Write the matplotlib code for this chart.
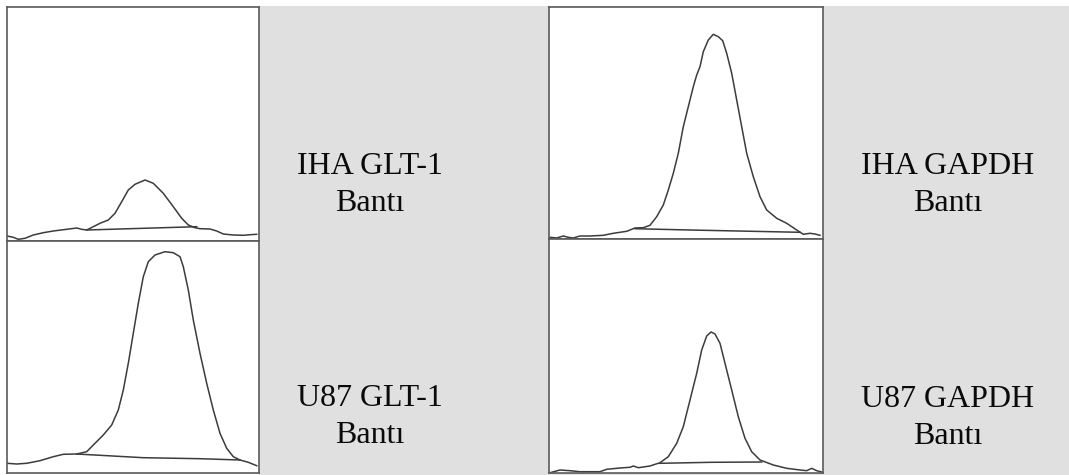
import matplotlib

matplotlib.use('Agg')
import matplotlib.pyplot as plt
from matplotlib.patches import Rectangle

# densitometry traces: position along the lane, band intensity
iha_glt_x = [0, 6.3, 11.3, 18, 26.3, 36.3, 46.3, 59.7, 69.7, 74.7, 79.7, 86.3, 93, 101.3, 108, 114.7,
             121.3, 128, 138, 146.3, 156.3, 166.3, 174.7, 181.3, 188, 193, 203, 209.7, 216.3, 226.3,
             236.3, 243, 249.7]
iha_glt_y = [5, 3.7, 1.7, 2.7, 6, 8.3, 10, 11.7, 13, 11.7, 11, 14.3, 17.7, 21, 27.7, 39.3,
             51, 56.7, 61, 57.7, 47.7, 34.3, 22.7, 16, 13.3, 12.3, 12, 10, 7, 6,
             5.7, 6.3, 6.7]
iha_glt_base_x = [79.7, 136.3, 189.7]
iha_glt_base_y = [11, 12.7, 14.3]

u87_glt_x = [0, 9.7, 19.7, 33, 46.3, 56.3, 69.7, 79.7, 86.3, 96.3, 104.7, 111.3, 116.3, 121.3, 126.3,
             131.3, 136.3, 141.3, 148, 158, 166.3, 173, 176.3, 181.3, 186.3, 193, 199.7, 206.3, 213,
             219.7, 226.3, 233, 241.3, 249.7]
u87_glt_y = [9.7, 9, 9.7, 12.3, 16.3, 18.7, 19, 21.3, 28, 38, 48, 63, 83, 109.7, 139.7,
             169.7, 196.3, 211.3, 218, 221.3, 220.3, 216.3, 206.3, 183, 153, 119.7, 89.7, 63, 39.7,
             24.7, 16.3, 13, 10.7, 7.3]
u87_glt_base_x = [69.7, 136.3, 193, 233]
u87_glt_base_y = [19, 15.3, 14.3, 13]

iha_gapdh_x = [1, 7.7, 14.3, 19.3, 24.3, 31, 41, 54.3, 64.3, 77.7, 86, 94.3, 101, 107.7, 114.3, 119.3,
               124.3, 129.3, 134.3, 139.3, 144.3, 147.7, 151, 154.3, 159.3, 164.3, 169.3, 173.7,
               177.7, 182.7, 187.7, 192.7, 197.7, 204.3, 211, 217.7, 227.7, 237.7, 247.7, 254.3,
               261, 266, 271]
iha_gapdh_y = [1.7, 1, 3, 1.7, 1, 3, 3, 3.7, 5.7, 7.7, 11, 11.3, 13.7, 22.3, 34, 49,
               65.7, 85.7, 112.3, 132.3, 152.3, 164, 172.3, 187.3, 199, 204.7, 202.3, 198.3,
               185.7, 165.7, 139, 112.3, 85.7, 62.3, 42.3, 29, 20.7, 15.7, 9, 4.7,
               5.7, 5, 3.7]
iha_gapdh_base_x = [86, 141, 251]
iha_gapdh_base_y = [10.3, 9, 6.7]

u87_gapdh_x = [1, 11, 21, 31, 51, 57.7, 71, 81, 84.3, 89.3, 101, 111, 119.3, 127.7, 134.3, 141,
               147.7, 152.7, 157.7, 162, 166, 171, 176, 182.7, 189.3, 196, 202.7, 211, 224.3,
               237.7, 251, 257.7, 262.7, 267.7, 272.7]
u87_gapdh_y = [0.3, 3, 2.3, 1.3, 1.3, 3.7, 5, 5.7, 7, 5.3, 7, 10.3, 16.3, 29.7, 46.3, 73,
               99.7, 123, 137, 141, 139, 129.7, 109.7, 83, 56.3, 34.7, 21.3, 13, 8,
               4.7, 3, 2.3, 4.7, 2.3, 1]
u87_gapdh_base_x = [111, 162.7, 212.7]
u87_gapdh_base_y = [9.7, 10.7, 11]

labels = ["IHA GLT-1\nBantı", "U87 GLT-1\nBantı", "IHA GAPDH\nBantı", "U87 GAPDH\nBantı"]

W, H = 1069, 475
line_col = '#3c3c3c'
box_col = '#5a5a5a'


def draw_trace(fig, rect, xs, ys, bx, by, xmax, ymax):
    ax = fig.add_axes(rect)
    ax.set_zorder(2)
    ax.set_facecolor('white')
    ax.plot(xs, ys, color=line_col, lw=1.1)
    ax.plot(bx, by, color=line_col, lw=1.1)
    ax.set_xlim(0, xmax)
    ax.set_ylim(0, ymax)
    ax.set_xticks([])
    ax.set_yticks([])
    for s in ax.spines.values():
        s.set_color(box_col)
        s.set_linewidth(1.2)
    return ax


fig = plt.figure(figsize=(W / 100, H / 100), dpi=100)
fig.patch.set_facecolor('white')
fig.patches.append(Rectangle((259 / W, 0), (W - 259) / W, 469 / H, transform=fig.transFigure,
                             facecolor='#e0e0e0', edgecolor='none', zorder=-1))

draw_trace(fig, [7 / W, (H - 241) / H, 252 / W, 234 / H],
           iha_glt_x, iha_glt_y, iha_glt_base_x, iha_glt_base_y, 252, 234)
draw_trace(fig, [7 / W, (H - 473) / H, 252 / W, 232 / H],
           u87_glt_x, u87_glt_y, u87_glt_base_x, u87_glt_base_y, 252, 232)
draw_trace(fig, [549 / W, (H - 239) / H, 274 / W, 232 / H],
           iha_gapdh_x, iha_gapdh_y, iha_gapdh_base_x, iha_gapdh_base_y, 274, 232)
draw_trace(fig, [549 / W, (H - 473) / H, 274 / W, 234 / H],
           u87_gapdh_x, u87_gapdh_y, u87_gapdh_base_x, u87_gapdh_base_y, 274, 234)

text_pos = [(370, 185), (370, 417), (948, 185), (948, 418)]
for (px, py), lab in zip(text_pos, labels):
    fig.text(px / W, 1 - py / H, lab, ha='center', va='center', fontsize=23,
             family='Liberation Serif', color='#0a0a0a', linespacing=1.36, zorder=3)

fig.savefig('out.png', dpi=100)
plt.close(fig)
